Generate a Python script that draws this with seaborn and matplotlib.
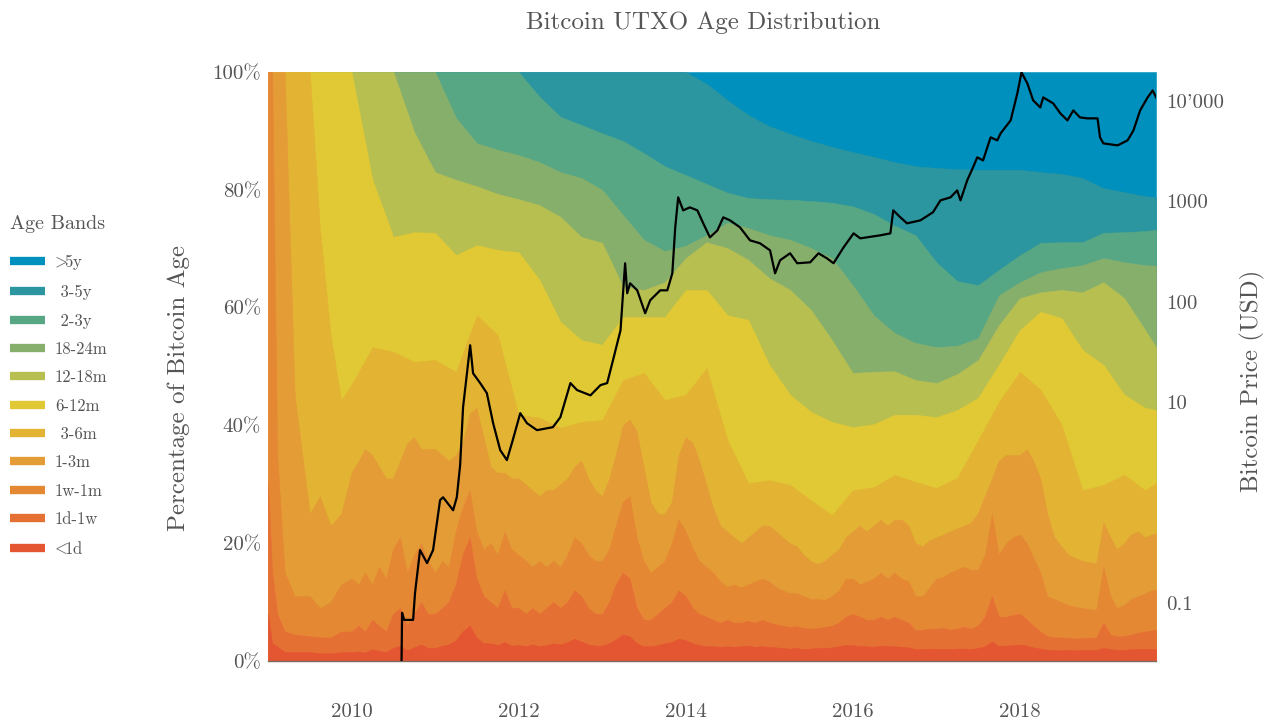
import numpy as np
import pandas as pd
import matplotlib
matplotlib.use('Agg')
import matplotlib.pyplot as plt
import seaborn as sns
from matplotlib.lines import Line2D
from matplotlib.ticker import NullLocator

sns.set_style('white')
plt.rcParams['font.family'] = ['cmr10', 'DejaVu Serif']
plt.rcParams['mathtext.fontset'] = 'cm'
plt.rcParams['axes.formatter.use_mathtext'] = True
plt.rcParams['axes.unicode_minus'] = False

# dates (decimal years) for the older bands, sampled quarterly
years = [2009.00, 2009.05, 2009.11, 2009.20, 2009.32, 2009.50, 2009.62, 2009.75, 2009.875,
         2010.00, 2010.25, 2010.50, 2010.75, 2011.00, 2011.25, 2011.50, 2011.75,
         2012.00, 2012.25, 2012.50, 2012.75, 2013.00, 2013.25, 2013.50, 2013.75,
         2014.00, 2014.25, 2014.50, 2014.75, 2015.00, 2015.25, 2015.50, 2015.75,
         2016.00, 2016.25, 2016.50, 2016.75, 2017.00, 2017.25, 2017.50, 2017.75,
         2018.00, 2018.25, 2018.50, 2018.75, 2019.00, 2019.25, 2019.50, 2019.63]

# the young bands are spikier, so they are read once a month from 2010 on
early_years = [2009.00, 2009.05, 2009.11, 2009.20, 2009.32, 2009.50, 2009.62, 2009.75, 2009.875]
months = pd.date_range('2010-01-01', '2019-08-01', freq='MS')
years_fine = early_years + [d.year + (d.dayofyear - 1) / 365.25 for d in months] + [2019.63]

# upper edge (cumulative %) of each band
top_lt1d = ([8, 3, 2.5, 1.5, 1.5, 1.5, 1.3, 1.3, 1.5]
            + [1.5, 1.6, 1.4, 2.0, 1.7, 1.5, 2.2, 2.6, 1.8, 2.3, 2.8, 2.2]
            + [2.2, 2.6, 2.8, 3.5, 5.0, 6.0, 4.0, 3.0, 3.0, 2.7, 3.2, 2.6]
            + [2.7, 2.5, 2.8, 2.5, 2.7, 3.0, 2.8, 3.2, 3.8, 3.3, 2.8, 2.6]
            + [2.6, 3.0, 3.6, 4.5, 4.2, 3.0, 2.5, 2.5, 2.7, 3.0, 3.2, 3.8]
            + [3.5, 3.0, 2.7, 2.5, 2.5, 2.4, 2.5, 2.4, 2.5, 2.6, 2.4, 2.5]
            + [2.4, 2.3, 2.2, 2.1, 2.2, 2.0, 2.1, 2.2, 2.2, 2.3, 2.5, 2.7]
            + [2.7, 2.5, 2.5, 2.4, 2.6, 2.5, 2.5, 2.4, 2.3, 2.0, 2.0, 2.1]
            + [2.0, 2.0, 2.0, 2.1, 2.1, 2.0, 2.2, 2.5, 3.3, 2.5, 2.6, 2.7]
            + [2.8, 2.6, 2.3, 2.1, 1.9, 1.9, 1.8, 1.9, 1.8, 1.9, 1.9, 1.9]
            + [2.2, 2.0, 1.9, 1.9, 2.0, 2.0, 2.0, 2.0, 2.0])
top_1d1w = ([30, 15, 8, 5, 4.5, 4.2, 4.0, 4.0, 5.0]
            + [5, 6, 5, 7, 6, 5, 8, 9, 6, 8, 10, 8]
            + [8, 9, 10, 13, 18, 21, 14, 11, 10, 9, 12, 9]
            + [9, 8, 9, 8, 9, 10, 9, 10, 12, 11, 9, 8]
            + [8, 10, 13, 15, 14, 9, 7, 7, 8, 9, 10, 12]
            + [11, 9, 8, 7.5, 7, 6.5, 7, 6.5, 6.5, 6.8, 6.5, 7]
            + [6.5, 6.2, 6, 5.8, 5.9, 5.6, 5.5, 5.6, 5.8, 6, 6.5, 7.5]
            + [8, 7.5, 7, 7, 7.5, 7, 7.5, 7, 6.5, 5.2, 5.3, 5.5]
            + [5.5, 5.6, 5.3, 5.5, 5.8, 5.5, 6.0, 7.5, 11, 7.5, 7.5, 7.8]
            + [8, 7, 6, 5, 4.2, 4, 4, 3.9, 3.8, 3.9, 3.9, 4]
            + [6.5, 4.5, 4.2, 4.2, 4.5, 4.8, 5.0, 5.2, 5.3])
top_1w1m = ([100, 100, 35, 15, 11, 11, 9, 10, 13]
            + [14, 13, 15, 13, 16, 14, 19, 21, 15, 18, 20, 17]
            + [15, 17, 16, 22, 26, 29, 22, 19, 20, 18, 22, 19]
            + [18, 17, 16, 17, 16, 17, 16, 18, 21, 20, 18, 17]
            + [17, 19, 23, 27, 28, 21, 17, 15, 16, 17, 20, 24]
            + [22, 19, 17, 16, 15, 13.5, 12.6, 13, 12.5, 13, 13.5, 14]
            + [13.5, 12.5, 12, 11.5, 11.5, 11, 10.5, 10.5, 10.4, 11, 12, 14]
            + [14, 13, 13.5, 14, 15, 14, 15, 14, 13.5, 11, 11, 12.5]
            + [14, 14.3, 15, 15.5, 16, 15.5, 15.5, 18, 25, 18, 20, 21]
            + [21.5, 20, 17.5, 15, 11, 10.5, 10, 9.5, 9.2, 9.0, 8.8, 8.7]
            + [16, 11, 9, 9.5, 10.5, 11, 11.5, 12, 12.1])
top_1m3m = ([100, 100, 100, 100, 45, 25, 28, 23, 25]
            + [32, 34, 36, 35, 33, 31, 31, 34, 37, 38, 36, 36]
            + [36, 35, 34, 35, 37, 42, 43, 38, 33, 32, 32, 31]
            + [31, 30, 29, 28, 29, 29, 30, 31, 33, 34, 31, 29]
            + [28, 31, 35, 40, 41, 39, 33, 27, 25, 25, 27, 35]
            + [38, 37, 34, 30, 26, 23, 22, 21, 20, 21, 22, 23]
            + [23, 22, 21, 20, 19.5, 18, 17, 16.5, 17, 18, 19, 21]
            + [22, 23, 22, 23, 24, 23, 24, 24, 23, 20, 19.5, 20.5]
            + [21, 21.5, 22, 22.5, 23, 23.5, 25, 28, 31, 34, 35, 35]
            + [35, 36, 34, 31, 25, 21, 19.5, 18, 17.5, 17, 16.8, 16.6]
            + [23.5, 21, 19, 20, 21.5, 22, 21, 21.5, 21.7])
top_3m6m = [100, 100, 100, 100, 100, 100, 73.7, 55.3, 44.3,
            46.9, 53.3, 52.5, 50.8, 51.1, 49.1, 58.7, 55.3,
            41.8, 41.3, 39.6, 40.6, 40.9, 47.7, 48.9, 44.3,
            45.2, 49.7, 37.5, 30.2, 30.7, 29.9, 27.3, 24.8,
            29.0, 29.5, 31.6, 30.4, 29.4, 31.1, 37.5, 44.0,
            49.1, 46.0, 40.1, 29.0, 29.9, 31.6, 29.0, 30.2]
top_6m12m = [100, 100, 100, 100, 100, 100, 100, 100, 100,
             100, 81.7, 72.0, 72.8, 72.7, 68.9, 70.6, 69.8,
             69.4, 64.7, 57.6, 54.5, 53.7, 58.4, 58.4, 58.4,
             63.0, 63.0, 58.7, 57.9, 50.3, 45.2, 42.3, 40.6,
             39.7, 40.2, 41.8, 41.8, 41.4, 42.6, 44.7, 50.3,
             56.2, 59.3, 58.2, 52.8, 50.3, 45.2, 43.0, 42.6]
top_12m18m = [100, 100, 100, 100, 100, 100, 100, 100, 100,
              100, 100, 100, 89.8, 83.0, 81.7, 80.6, 79.3,
              78.4, 77.4, 75.4, 72.0, 71.0, 63.5, 63.0, 64.3,
              68.4, 71.1, 70.1, 68.1, 65.0, 63.0, 59.6, 54.5,
              48.9, 49.1, 49.2, 47.7, 47.2, 48.7, 51.1, 57.0,
              61.6, 62.6, 63.0, 62.6, 64.3, 61.6, 56.2, 53.3]
top_18m24m = [100, 100, 100, 100, 100, 100, 100, 100, 100,
              100, 100, 100, 100, 100, 92.2, 87.9, 86.8,
              85.9, 84.7, 83.0, 82.0, 80.0, 75.7, 71.5, 69.6,
              70.5, 72.3, 74.4, 73.5, 72.3, 71.5, 70.1, 68.4,
              63.8, 58.7, 55.7, 54.0, 53.3, 53.5, 54.8, 62.1,
              64.3, 66.0, 66.7, 67.2, 68.4, 67.7, 67.2, 67.1]
top_2y3y = [100, 100, 100, 100, 100, 100, 100, 100, 100,
            100, 100, 100, 100, 100, 100, 100, 100,
            100, 95.8, 92.4, 91.0, 89.6, 88.3, 86.2, 84.0,
            82.5, 81.0, 79.5, 78.6, 78.4, 78.3, 78.1, 77.8,
            77.2, 75.9, 73.9, 72.3, 67.7, 64.5, 63.8, 66.4,
            68.9, 71.0, 71.1, 71.1, 72.7, 72.8, 73.0, 73.2]
top_3y5y = [100, 100, 100, 100, 100, 100, 100, 100, 100,
            100, 100, 100, 100, 100, 100, 100, 100,
            100, 100, 100, 100, 100, 100, 100, 100,
            100, 98.0, 95.2, 92.7, 90.8, 89.5, 88.3, 87.3,
            86.4, 85.6, 84.7, 84.0, 83.7, 83.5, 83.4, 83.4,
            83.4, 83.0, 82.7, 82.0, 80.3, 79.6, 78.9, 78.8]
top_gt5y = [100] * len(years)

band_labels = [r'$\!\!<\!\!$1d', '1d-1w', '1w-1m', '1-3m', ' 3-6m', '6-12m',
               '12-18m', '18-24m', ' 2-3y', ' 3-5y', r'$\!\!>\!\!$5y']
band_colors = ['#e45531', '#e57034', '#e58834', '#e49d36', '#e3b433', '#e1c935',
               '#b7bf51', '#87af6c', '#57a785', '#2b969f', '#0090bd']

# bitcoin price (USD)
price_years = [2010.593, 2010.605, 2010.63, 2010.737, 2010.76, 2010.82, 2010.904, 2010.976,
               2011.06, 2011.096, 2011.216, 2011.26, 2011.30, 2011.335, 2011.42, 2011.455,
               2011.54, 2011.62, 2011.695, 2011.78, 2011.86, 2011.93, 2012.02, 2012.10,
               2012.22, 2012.41, 2012.50, 2012.62, 2012.70, 2012.86, 2012.98, 2013.06,
               2013.13, 2013.19, 2013.22, 2013.25, 2013.275, 2013.30, 2013.335, 2013.42,
               2013.515, 2013.575, 2013.695, 2013.78, 2013.84, 2013.875, 2013.91, 2013.97,
               2014.05, 2014.14, 2014.21, 2014.29, 2014.38, 2014.45, 2014.53, 2014.65,
               2014.77, 2014.89, 2015.01, 2015.07, 2015.13, 2015.25, 2015.335, 2015.49,
               2015.59, 2015.69, 2015.77, 2015.89, 2016.01, 2016.09, 2016.33, 2016.45,
               2016.485, 2016.57, 2016.65, 2016.81, 2016.96, 2017.05, 2017.17, 2017.25,
               2017.29, 2017.37, 2017.44, 2017.49, 2017.56, 2017.65, 2017.73, 2017.77,
               2017.89, 2017.97, 2018.02, 2018.09, 2018.16, 2018.245, 2018.28, 2018.40,
               2018.485, 2018.57, 2018.64, 2018.72, 2018.81, 2018.93, 2018.96, 2019.0,
               2019.17, 2019.29, 2019.36, 2019.44, 2019.53, 2019.59, 2019.65]
price_usd = [0.01, 0.080, 0.068, 0.068, 0.126, 0.337, 0.25, 0.337,
             1.06, 1.13, 0.84, 1.13, 2.36, 8.9, 36.9, 19.4,
             15.5, 12.3, 6.18, 3.33, 2.65, 4.19, 7.78, 6.18,
             5.27, 5.64, 7.09, 15.5, 13.2, 11.7, 14.8, 15.5,
             26.2, 41.4, 52.0, 121.6, 241.7, 121.6, 152.8, 130,
             76.9, 103.5, 130, 130, 192, 551, 1096, 813,
             871, 813, 604, 438, 514, 693, 647, 551,
             409, 382, 325, 192, 259, 304, 242, 247,
             304, 271, 242, 348, 480, 428, 459, 480,
             813, 693, 604, 647, 778, 1023, 1096, 1285,
             1023, 1618, 2179, 2741, 2558, 4335, 4046, 4753,
             6397, 11880, 19230, 14930, 10110, 8610, 10840, 9440,
             7510, 6397, 8040, 6850, 6700, 6700, 4335, 3776,
             3607, 4046, 5083, 8040, 10840, 12710, 10110]

text_color = '#555555'

fig = plt.figure(figsize=(12.67, 7.2), dpi=100)
ax = fig.add_axes([268 / 1267, 1 - 661 / 720, 888 / 1267, 589 / 720])

# paint from the oldest band down: each band filled from 0 to its upper edge
edges = [(years_fine, top_lt1d), (years_fine, top_1d1w), (years_fine, top_1w1m),
         (years_fine, top_1m3m), (years, top_3m6m), (years, top_6m12m),
         (years, top_12m18m), (years, top_18m24m), (years, top_2y3y),
         (years, top_3y5y), (years, top_gt5y)]
for (xs, edge), color in list(zip(edges, band_colors))[::-1]:
    ax.fill_between(xs, 0, edge, facecolor=color, edgecolor=color, lw=0.4)

ax.set_xlim(2009.0, 2019.63)
ax.set_ylim(0, 100)
ax.set_xticks([2010, 2012, 2014, 2016, 2018], labels=['2010', '2012', '2014', '2016', '2018'])
ax.set_yticks([0, 20, 40, 60, 80, 100], labels=['0%', '20%', '40%', '60%', '80%', '100%'])
ax.tick_params(axis='x', length=0, pad=30, labelsize=15, colors=text_color)
ax.tick_params(axis='y', length=0, pad=5, labelsize=15, colors=text_color)
ax.set_ylabel('Percentage of Bitcoin Age', fontsize=18, color=text_color)
ax.yaxis.set_label_coords(-0.088, 0.4635)
for s in ['top', 'left', 'right']:
    ax.spines[s].set_visible(False)
ax.spines['bottom'].set_color('#7a6a60')
ax.spines['bottom'].set_linewidth(1.0)

ax2 = ax.twinx()
sns.lineplot(x=price_years, y=price_usd, ax=ax2, color='black', lw=1.6,
             sort=False, estimator=None)
ax2.set_yscale('log')
ax2.set_ylim(0.0265, 19400)
ax2.set_xlim(2009.0, 2019.63)
ax2.set_yticks([0.1, 10, 100, 1000, 10000], labels=['0.1', '10', '100', '1000', "10'000"])
ax2.yaxis.set_minor_locator(NullLocator())
ax2.tick_params(axis='y', length=0, pad=7, labelsize=15, colors=text_color)
ax2.set_ylabel('Bitcoin Price (USD)', fontsize=18, color=text_color)
ax2.yaxis.set_label_coords(1.0946, 0.476)
for s in ax2.spines.values():
    s.set_visible(False)

fig.text(0.555, 0.969, 'Bitcoin UTXO Age Distribution', ha='center', va='center',
         fontsize=18, color=text_color)

fig.text(10 / 1267, 1 - 224 / 720, 'Age Bands', ha='left', va='center',
         fontsize=14.5, color=text_color)
handles = [Line2D([0], [0], color=c, lw=6, solid_capstyle='butt') for c in band_colors[::-1]]
leg = fig.legend(handles, band_labels[::-1], loc='upper left',
                 bbox_to_anchor=(10 / 1267, 1 - 252 / 720), frameon=False, fontsize=12,
                 handlelength=2.1, handletextpad=0.6, labelspacing=0.78, borderpad=0,
                 borderaxespad=0)
for t in leg.get_texts():
    t.set_color(text_color)

fig.savefig('out.png', dpi=100)
